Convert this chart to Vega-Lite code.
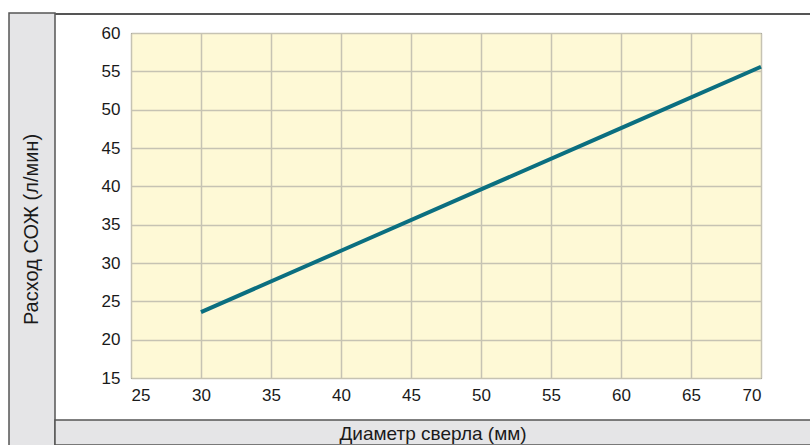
{
  "$schema": "https://vega.github.io/schema/vega-lite/v6.json",
  "padding": {"left": 8, "top": 12, "right": 0, "bottom": 0},
  "background": "white",
  "config": {
    "font": "Liberation Sans",
    "view": {"stroke": null}
  },
  "spacing": 0,
  "bounds": "flush",
  "hconcat": [
    {
      "width": 46,
      "height": 433,
      "view": {"fill": "#e5e5e7", "stroke": "#555555", "strokeWidth": 1.5},
      "data": {"values": [{"label": "Расход СОЖ (л/мин)"}]},
      "mark": {"type": "text", "angle": 270, "fontSize": 20, "color": "#1a1a1a", "baseline": "middle", "align": "center"},
      "encoding": {"text": {"field": "label"}}
    },
    {
      "spacing": 0,
      "bounds": "full",
      "align": "none",
      "vconcat": [
        {
          "width": 756,
          "height": 1,
          "view": {"fill": "#555555", "stroke": "#555555", "strokeWidth": 1},
          "data": {"values": [{}]},
          "mark": {"type": "rect", "opacity": 0},
          "encoding": {}
        },
        {
          "width": 756,
          "height": 8,
          "data": {"values": [{}]},
          "mark": {"type": "rect", "opacity": 0},
          "encoding": {}
        },
        {
          "spacing": 0,
          "bounds": "flush",
          "hconcat": [
            {
              "width": 76,
              "height": 345,
              "data": {"values": [{}]},
              "mark": {"type": "rect", "opacity": 0},
              "encoding": {}
            },
            {
              "width": 630,
              "height": 345,
              "view": {"fill": "#fef9d6", "stroke": "#333333", "strokeWidth": 1},
              "data": {
                "values": [
                  {"diameter": 30, "flow": 23.6},
                  {"diameter": 40, "flow": 31.6},
                  {"diameter": 50, "flow": 39.6},
                  {"diameter": 60, "flow": 47.6},
                  {"diameter": 70, "flow": 55.6}
                ]
              },
              "mark": {"type": "line", "color": "#0b6f80", "strokeWidth": 4},
              "encoding": {
                "x": {
                  "field": "diameter",
                  "type": "quantitative",
                  "scale": {"domain": [25, 70], "nice": false, "zero": false},
                  "axis": {
                    "title": null,
                    "values": [25, 30, 35, 40, 45, 50, 55, 60, 65, 70],
                    "grid": true,
                    "gridColor": "#c6c3b3",
                    "gridWidth": 1.5,
                    "gridOpacity": 1,
                    "ticks": false,
                    "domain": false,
                    "labelPadding": 9,
                    "labelFontSize": 17,
                    "labelColor": "#1a1a1a",
                    "labelFont": "Liberation Sans"
                  }
                },
                "y": {
                  "field": "flow",
                  "type": "quantitative",
                  "scale": {"domain": [15, 60], "nice": false, "zero": false},
                  "axis": {
                    "title": null,
                    "values": [15, 20, 25, 30, 35, 40, 45, 50, 55, 60],
                    "grid": true,
                    "gridColor": "#c6c3b3",
                    "gridWidth": 1.5,
                    "gridOpacity": 1,
                    "ticks": false,
                    "domain": false,
                    "labelPadding": 11,
                    "labelFontSize": 17,
                    "labelColor": "#1a1a1a",
                    "labelFont": "Liberation Sans"
                  }
                }
              }
            }
          ]
        },
        {
          "width": 756,
          "height": 15,
          "data": {"values": [{}]},
          "mark": {"type": "rect", "opacity": 0},
          "encoding": {}
        },
        {
          "width": 756,
          "height": 25,
          "view": {"fill": "#e5e5e7", "stroke": "#555555", "strokeWidth": 1.5},
          "data": {"values": [{"label": "Диаметр сверла (мм)"}]},
          "mark": {"type": "text", "fontSize": 19, "color": "#1a1a1a", "baseline": "middle", "align": "center", "dy": 1},
          "encoding": {"text": {"field": "label"}}
        }
      ]
    }
  ]
}
